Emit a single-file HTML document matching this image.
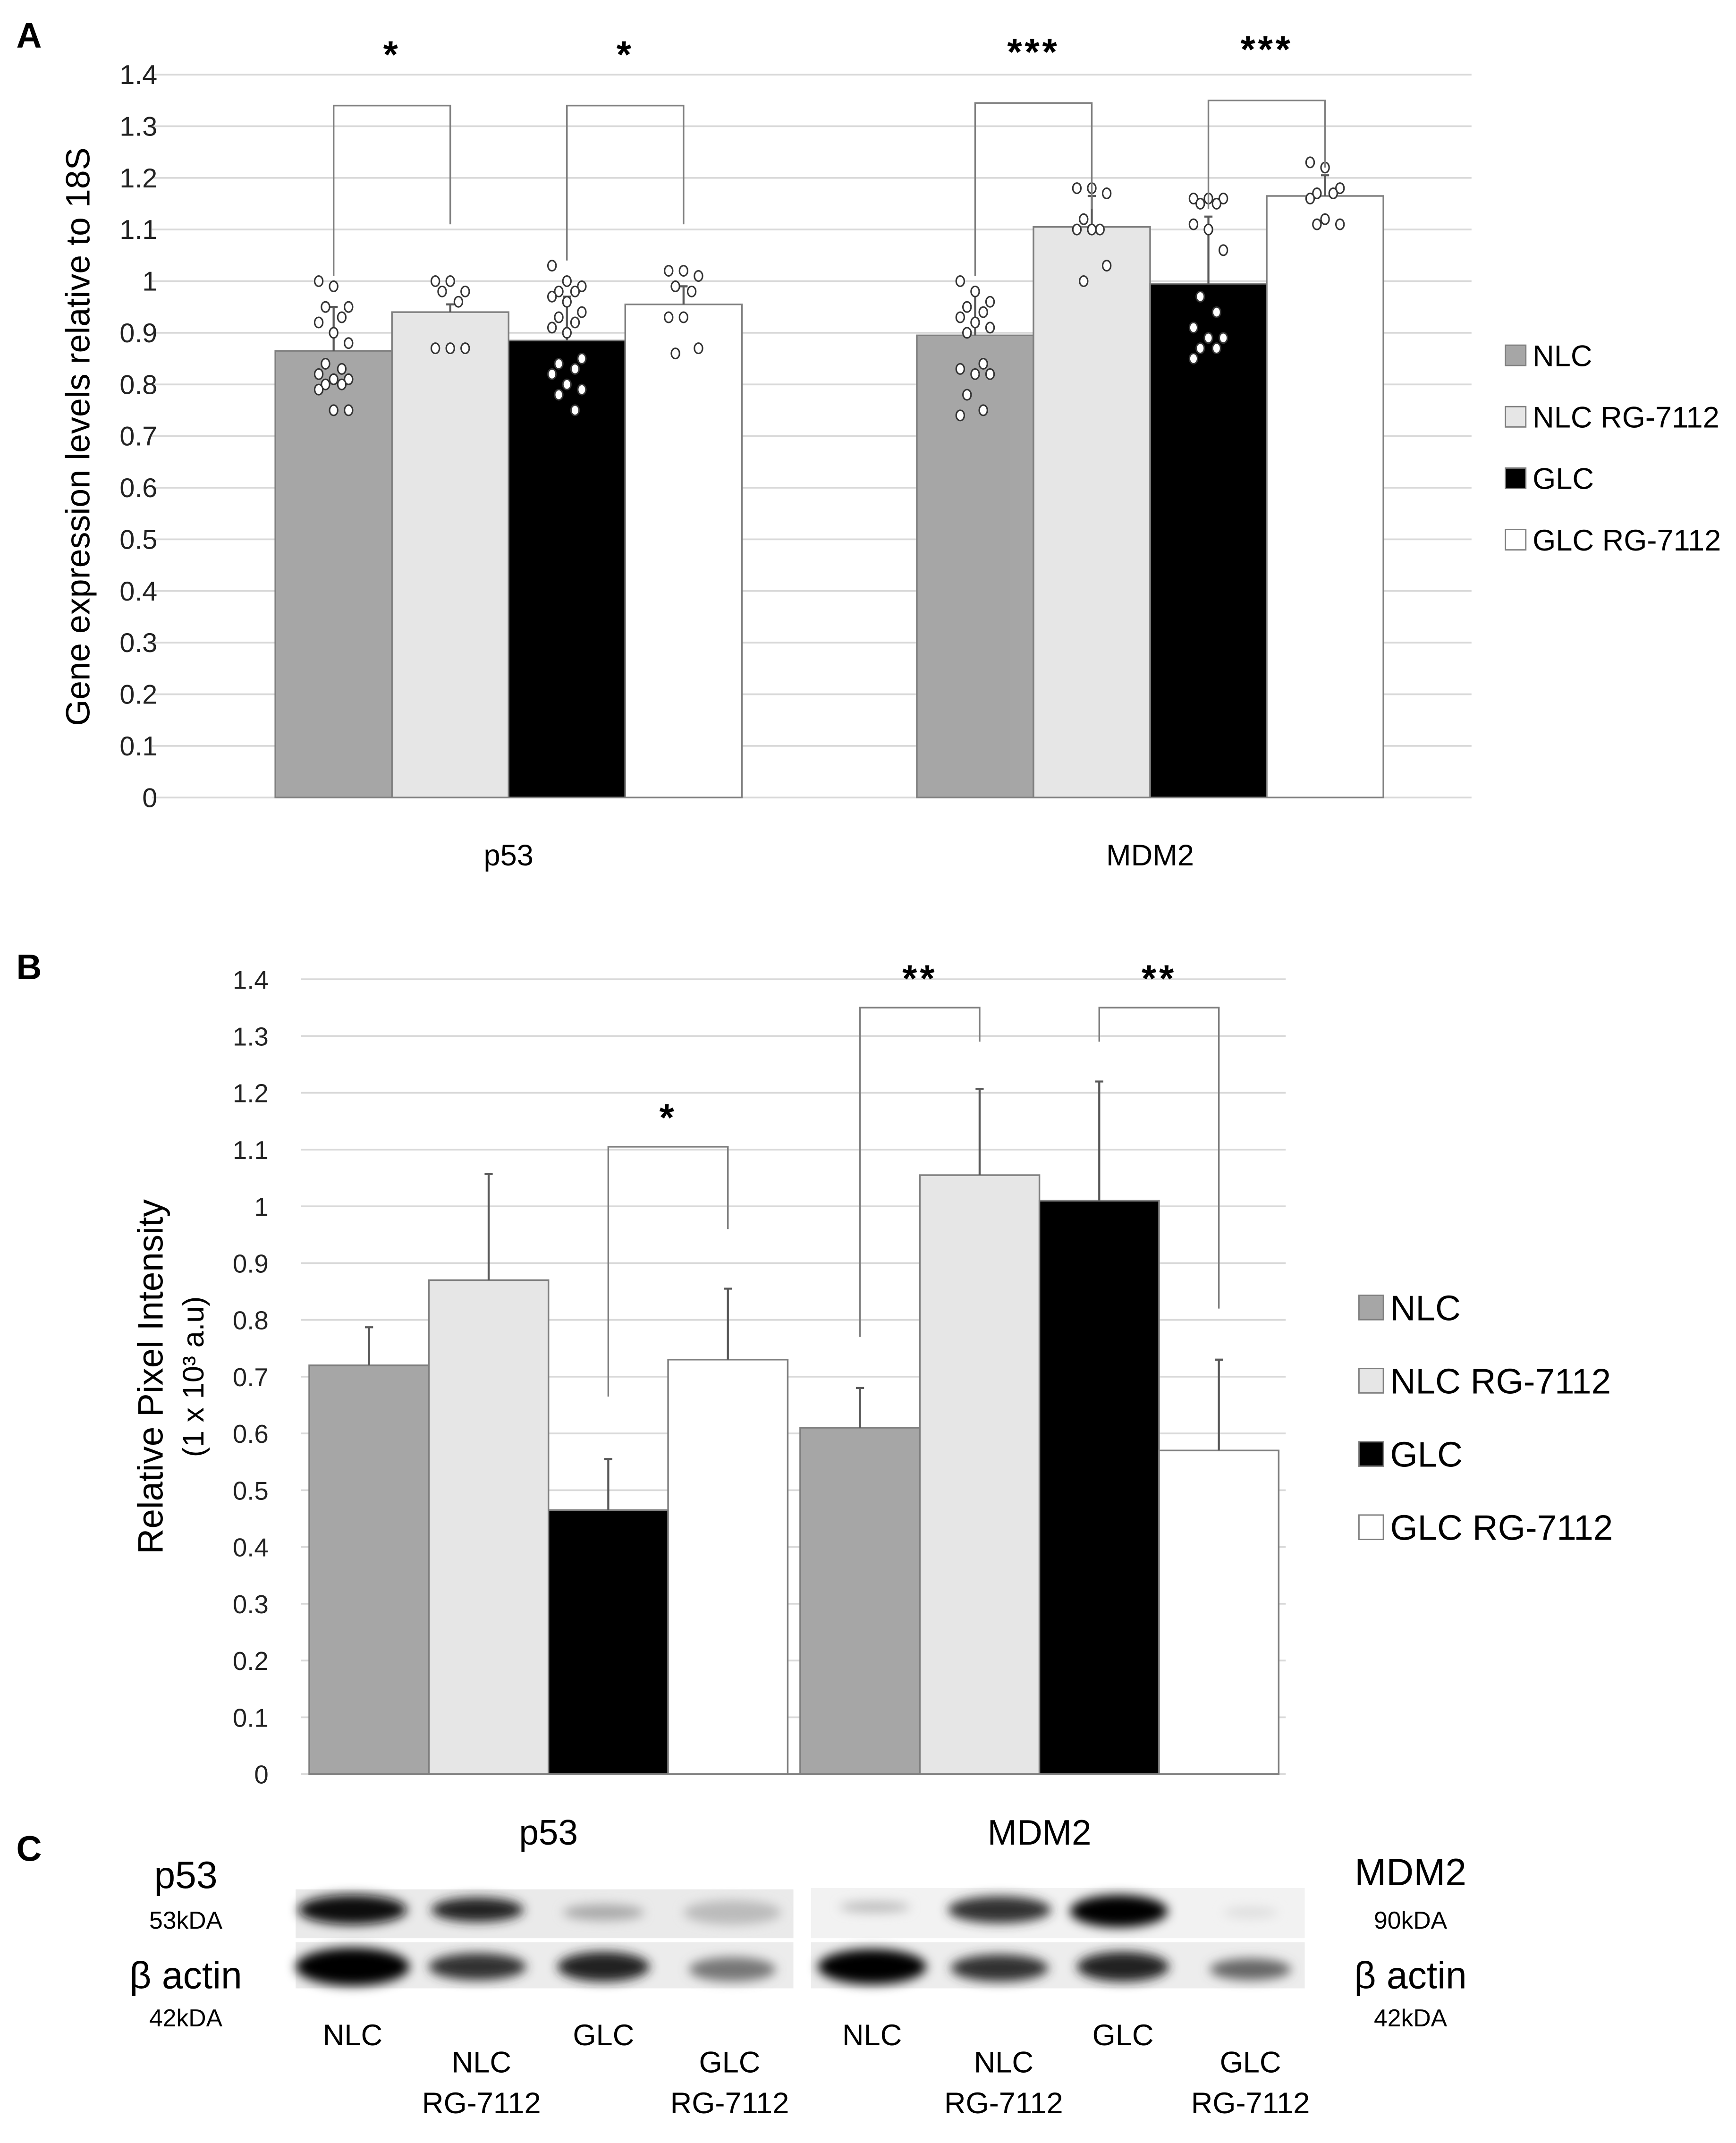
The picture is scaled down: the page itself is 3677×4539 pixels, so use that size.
<!DOCTYPE html>
<html><head><meta charset="utf-8"><style>html,body{margin:0;padding:0;background:#fff}svg{display:block}</style></head>
<body>
<svg id="fig" xmlns="http://www.w3.org/2000/svg" width="3677" height="4539" viewBox="0 0 1280 1580" preserveAspectRatio="none" font-family="'Liberation Sans', sans-serif">
<defs><filter id="blur" x="-20%" y="-50%" width="140%" height="200%"><feGaussianBlur stdDeviation="4"/></filter></defs>
<rect width="1280" height="1580" fill="#fff"/>
<text x="12" y="35" font-size="26" font-weight="bold">A</text>
<text x="12" y="722" font-size="26" font-weight="bold">B</text>
<text x="12" y="1372" font-size="26" font-weight="bold">C</text>
<g id="pa"></g>
<g id="pb"></g>
<g id="pc">
 <text x="137" y="1392" font-size="28" text-anchor="middle">p53</text>
 <text x="137" y="1422" font-size="18" text-anchor="middle">53kDA</text>
 <text x="137" y="1466" font-size="28" text-anchor="middle">β actin</text>
 <text x="137" y="1494" font-size="18" text-anchor="middle">42kDA</text>
 <text x="1040" y="1390" font-size="28" text-anchor="middle">MDM2</text>
 <text x="1040" y="1422" font-size="18" text-anchor="middle">90kDA</text>
 <text x="1040" y="1466" font-size="28" text-anchor="middle">β actin</text>
 <text x="1040" y="1494" font-size="18" text-anchor="middle">42kDA</text>
 <rect x="218" y="1393" width="367" height="36" fill="#eaeaea"/>
 <rect x="218" y="1432" width="367" height="34" fill="#ececec"/>
 <rect x="598" y="1392" width="364" height="37" fill="#f2f2f2"/>
 <rect x="598" y="1432" width="364" height="34" fill="#ededed"/>
 <g filter="url(#blur)">
  <ellipse cx="260" cy="1408" rx="40" ry="11" fill="#111"/>
  <ellipse cx="352" cy="1408" rx="34" ry="9" fill="#222"/>
  <ellipse cx="445" cy="1410" rx="30" ry="6" fill="#aaa"/>
  <ellipse cx="540" cy="1410" rx="36" ry="9" fill="#bbb"/>
  <ellipse cx="260" cy="1450" rx="42" ry="14" fill="#000"/>
  <ellipse cx="352" cy="1450" rx="36" ry="10" fill="#333"/>
  <ellipse cx="445" cy="1450" rx="34" ry="11" fill="#222"/>
  <ellipse cx="540" cy="1452" rx="32" ry="9" fill="#777"/>
  <ellipse cx="645" cy="1406" rx="26" ry="4" fill="#bbb"/>
  <ellipse cx="737" cy="1408" rx="38" ry="10" fill="#333"/>
  <ellipse cx="825" cy="1409" rx="36" ry="12" fill="#000"/>
  <ellipse cx="922" cy="1410" rx="20" ry="4" fill="#ddd"/>
  <ellipse cx="643" cy="1450" rx="40" ry="13" fill="#000"/>
  <ellipse cx="737" cy="1451" rx="36" ry="10" fill="#333"/>
  <ellipse cx="828" cy="1450" rx="34" ry="11" fill="#222"/>
  <ellipse cx="922" cy="1452" rx="30" ry="8" fill="#666"/>
 </g>
 <g font-size="22" text-anchor="middle">
  <text x="260" y="1508">NLC</text>
  <text x="355" y="1528">NLC</text>
  <text x="355" y="1558">RG-7112</text>
  <text x="445" y="1508">GLC</text>
  <text x="538" y="1528">GLC</text>
  <text x="538" y="1558">RG-7112</text>
  <text x="643" y="1508">NLC</text>
  <text x="740" y="1528">NLC</text>
  <text x="740" y="1558">RG-7112</text>
  <text x="828" y="1508">GLC</text>
  <text x="922" y="1528">GLC</text>
  <text x="922" y="1558">RG-7112</text>
 </g>
</g>
</svg>
<script>
const NS='http://www.w3.org/2000/svg';
const categories=['p53','MDM2'];
const seriesNames=['NLC','NLC RG-7112','GLC','GLC RG-7112'];
const fills=['#a6a6a6','#e6e6e6','#000000','#ffffff'];
const yTicks=[0,0.1,0.2,0.3,0.4,0.5,0.6,0.7,0.8,0.9,1,1.1,1.2,1.3,1.4];
// Panel A
const aMeans=[[0.865,0.94,0.885,0.955],[0.895,1.105,0.995,1.165]];
const aErr=[[0.95,0.955,0.97,0.99],[0.98,1.165,1.125,1.205]];
const aDots=[
 [[1.0,0.99,0.95,0.95,0.93,0.92,0.9,0.88,0.84,0.83,0.82,0.81,0.81,0.8,0.8,0.79,0.75,0.75],
  [1.0,1.0,0.98,0.98,0.96,0.87,0.87,0.87],
  [1.03,1.0,0.99,0.98,0.98,0.97,0.96,0.94,0.93,0.92,0.91,0.9,0.85,0.84,0.83,0.82,0.8,0.79,0.78,0.75],
  [1.02,1.02,1.01,0.99,0.98,0.93,0.93,0.87,0.86]],
 [[1.0,0.98,0.96,0.95,0.94,0.93,0.92,0.91,0.9,0.84,0.83,0.82,0.82,0.78,0.75,0.74],
  [1.18,1.18,1.17,1.12,1.1,1.1,1.1,1.03,1.0],
  [1.16,1.16,1.16,1.15,1.15,1.11,1.1,1.06,0.97,0.94,0.91,0.89,0.89,0.87,0.87,0.85],
  [1.23,1.22,1.18,1.17,1.17,1.16,1.12,1.11,1.11]]];
// brackets: [group, fromSeries, toSeries, top, leftEnd, rightEnd, stars]
const aBrackets=[[0,0,1,1.34,1.01,1.11,'*'],[0,2,3,1.34,1.04,1.11,'*'],[1,0,1,1.345,1.01,1.14,'***'],[1,2,3,1.35,1.14,1.22,'***']];
// Panel B
const bMeans=[[0.72,0.87,0.465,0.73],[0.61,1.055,1.01,0.57]];
const bErr=[[0.787,1.057,0.555,0.855],[0.68,1.207,1.22,0.73]];
const bBrackets=[[0,2,3,1.105,0.665,0.96,'*'],[1,0,1,1.35,0.77,1.29,'**'],[1,2,3,1.35,1.29,0.82,'**']];

function el(p,tag,at,txt){const e=document.createElementNS(NS,tag);for(const k in at)e.setAttribute(k,at[k]);if(txt!==undefined)e.textContent=txt;p.appendChild(e);return e;}

function drawPanel(g,cfg){
 const yS=v=>cfg.y0-(v/1.4)*(cfg.y0-cfg.y14);
 const xBar=(c,s)=>cfg.gx[c]+s*cfg.bw;
 yTicks.forEach(t=>{
  const l=el(g,'line',{x1:cfg.gl0,x2:cfg.gl1,y1:yS(t),y2:yS(t),stroke:'#d9d9d9','stroke-width':1.3});
  
  
  const tx=el(g,'text',{x:cfg.tickX,y:yS(t)+7,'font-size':cfg.tickFs,'text-anchor':'end',fill:'#222'},String(t));
  
  
 });
 categories.forEach((cat,c)=>{
  cfg.means[c].forEach((v,s)=>{
   const x=xBar(c,s);
   const r=el(g,'rect',{x:x,y:yS(v),width:cfg.bw,height:yS(0)-yS(v),fill:fills[s],stroke:'#7f7f7f','stroke-width':1.2});
   
   
   const cx=x+cfg.bw/2;
   const e=el(g,'line',{x1:cx,x2:cx,y1:yS(v),y2:yS(cfg.err[c][s]),stroke:'#595959','stroke-width':1.5});
   
   
   const cap=el(g,'line',{x1:cx-3,x2:cx+3,y1:yS(cfg.err[c][s]),y2:yS(cfg.err[c][s]),stroke:'#595959','stroke-width':1.5});
   
   
   if(cfg.dots){
    const offs=[-11,0,11,-6,6];
    cfg.dots[c][s].forEach((d,i)=>{
     const dt=el(g,'ellipse',{cx:cx+offs[i%5],cy:yS(d),rx:3,ry:3.8,fill:'#fff',stroke:'#333','stroke-width':1.1});
     
     
    });
   }
  });
  const lab=el(g,'text',{x:cfg.gx[c]+2*cfg.bw,y:cfg.catY,'font-size':cfg.catFs,'text-anchor':'middle'},cat);
  
  
 });
 cfg.brackets.forEach(b=>{
  const x1=xBar(b[0],b[1])+cfg.bw/2, x2=xBar(b[0],b[2])+cfg.bw/2;
  const p=el(g,'path',{d:`M${x1},${yS(b[4])}V${yS(b[3])}H${x2}V${yS(b[5])}`,fill:'none',stroke:'#7f7f7f','stroke-width':1.2});
  
  
  const st=el(g,'text',{x:(x1+x2)/2,y:yS(b[3])+cfg.starDy,'font-size':28,'font-weight':'bold','text-anchor':'middle','letter-spacing':2},b[6]);
  
  
 });
 seriesNames.forEach((n,s)=>{
  const y=cfg.legY+s*cfg.legDy;
  const sq=el(g,'rect',{x:cfg.legX,y:y-cfg.legSq/2,width:cfg.legSq,height:cfg.legSq,fill:fills[s],stroke:'#7f7f7f','stroke-width':1});
  
  
  const t=el(g,'text',{x:cfg.legX+cfg.legSq+5,y:y+cfg.legFs*0.36,'font-size':cfg.legFs},n);
  
  
 });
}

const pa=document.getElementById('pa');
drawPanel(pa,{y0:588,y14:55,gl0:112,gl1:1085,tickX:116,tickFs:20,gx:[203,676],bw:86,means:aMeans,err:aErr,dots:aDots,brackets:aBrackets,catY:638,catFs:22,starDy:-28,legX:1110,legY:262,legDy:45.3,legSq:15,legFs:22});
const ta=el(pa,'text',{x:0,y:0,'font-size':25,'text-anchor':'middle',transform:'translate(66,322) rotate(-90)'},'Gene expression levels relative to 18S');



const pb=document.getElementById('pb');
drawPanel(pb,{y0:1308,y14:722,gl0:222,gl1:948,tickX:198,tickFs:19,gx:[228,590],bw:88.2,means:bMeans,err:bErr,dots:null,brackets:bBrackets,catY:1360,catFs:26,starDy:-12,legX:1002,legY:964,legDy:54,legSq:18,legFs:26});
el(pb,'line',{x1:228,x2:943,y1:1308,y2:1308,stroke:'#7f7f7f','stroke-width':1.3});
const tb=el(pb,'text',{x:0,y:0,'font-size':26,'text-anchor':'middle',transform:'translate(120,1015) rotate(-90)'},'Relative Pixel Intensity');


const tb2=el(pb,'text',{x:0,y:0,'font-size':22,'text-anchor':'middle',transform:'translate(150,1015) rotate(-90)'},'(1 x 10³ a.u)');


</script>
</body></html>
